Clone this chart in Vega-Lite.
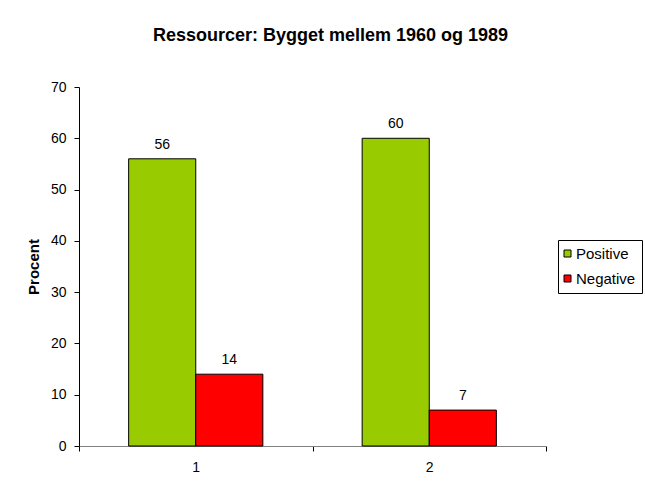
{
  "$schema": "https://vega.github.io/schema/vega-lite/v6.json",
  "autosize": {"type": "none"},
  "padding": {"left": 79, "top": 87, "right": 99, "bottom": 42},
  "width": 467,
  "height": 359,
  "background": "white",
  "config": {
    "font": "Liberation Sans",
    "view": {"stroke": null}
  },
  "title": {
    "text": "Ressourcer: Bygget mellem 1960 og 1989",
    "fontSize": 18,
    "fontWeight": "bold",
    "color": "black",
    "anchor": "middle",
    "dx": 18,
    "offset": 35
  },
  "data": {
    "values": [
      {"cat": "1", "series": "Positive", "value": 56},
      {"cat": "1", "series": "Negative", "value": 14},
      {"cat": "2", "series": "Positive", "value": 60},
      {"cat": "2", "series": "Negative", "value": 7}
    ]
  },
  "encoding": {
    "x": {
      "field": "cat",
      "type": "nominal",
      "scale": {"paddingInner": 0, "paddingOuter": 0},
      "axis": {
        "title": null,
        "labelAngle": 0,
        "labelFontSize": 14,
        "labelColor": "black",
        "labelPadding": 9,
        "tickBand": "extent",
        "tickColor": "black",
        "tickSize": 5,
        "domainColor": "#808080"
      }
    },
    "xOffset": {
      "field": "series",
      "sort": ["Positive", "Negative"],
      "scale": {"paddingInner": 0, "paddingOuter": 0.74}
    },
    "y": {
      "field": "value",
      "type": "quantitative",
      "scale": {"domain": [0, 70]},
      "axis": {
        "title": "Procent",
        "titleFontSize": 15,
        "titleFontWeight": "bold",
        "titleColor": "black",
        "titlePadding": 9,
        "values": [0, 10, 20, 30, 40, 50, 60, 70],
        "grid": false,
        "labelFontSize": 14,
        "labelColor": "black",
        "labelPadding": 8,
        "tickColor": "black",
        "tickSize": 5,
        "domainColor": "black"
      }
    }
  },
  "layer": [
    {
      "mark": {"type": "bar", "stroke": "black", "strokeWidth": 1},
      "encoding": {
        "color": {
          "field": "series",
          "type": "nominal",
          "sort": ["Positive", "Negative"],
          "scale": {"domain": ["Positive", "Negative"], "range": ["#99CC00", "#FF0000"]},
          "legend": {
            "title": null,
            "orient": "none",
            "legendX": 479,
            "legendY": 153,
            "strokeColor": "black",
            "padding": 6,
            "symbolType": "square",
            "symbolStrokeColor": "black",
            "symbolStrokeWidth": 1,
            "symbolSize": 49,
            "symbolOffset": -4,
            "labelFontSize": 15,
            "labelColor": "black",
            "labelOffset": 1,
            "rowPadding": 9
          }
        }
      }
    },
    {
      "mark": {"type": "text", "dy": -10, "fontSize": 14, "color": "black", "baseline": "alphabetic"},
      "encoding": {"text": {"field": "value", "type": "quantitative"}}
    }
  ]
}
